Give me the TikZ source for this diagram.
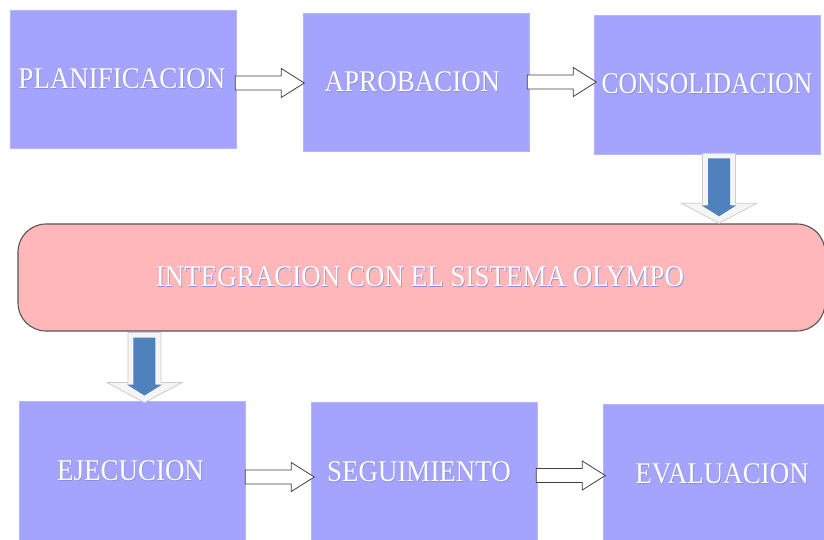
\documentclass[tikz,border=0pt]{standalone}
\usepackage{fontspec}
\setmainfont{Liberation Serif}
\usetikzlibrary{calc}
\definecolor{boxblue}{HTML}{A4A4FE}
\definecolor{boxedge}{HTML}{B4B4FF}
\definecolor{pinkfill}{HTML}{FFB7BA}
\definecolor{pinkedge}{HTML}{555555}
\definecolor{arrowblue}{HTML}{4F81BD}
\definecolor{txtshadow}{HTML}{8C8CD8}
\newcommand{\lbl}[1]{\scalebox{0.9}[1]{\makebox[0pt][l]{\kern0.8pt\raisebox{-0.8pt}{\textcolor{txtshadow}{#1}}}#1}}
\tikzset{
  stagebox/.style={rectangle, fill=boxblue, draw=boxedge, line width=0.6pt,
    minimum width=226pt, minimum height=138pt, inner sep=0pt,
    text=white, font=\fontsize{30}{32}\selectfont},
  integbox/.style={rectangle, rounded corners=28pt, fill=pinkfill, draw=pinkedge,
    line width=1.1pt, minimum width=807pt, minimum height=107pt, inner sep=0pt,
    text=white, font=\fontsize{30}{32}\selectfont},
  rblock/.style={fill=white, draw=black!75, line width=0.8pt, line join=miter},
  rightblock/.pic={
    \draw[rblock] (0,-7) -- (46,-7) -- (46,-14.5) -- (69,0) -- (46,14.5) -- (46,7) -- (0,7) -- cycle;
  },
  downblock/.pic={
    \draw[fill=gray!8, draw=gray!40, line width=0.8pt]
      (-16.5,0) -- (16.5,0) -- (16.5,50) -- (37.5,50) -- (0,70) -- (-37.5,50) -- (-16.5,50) -- cycle;
    \fill[arrowblue] (-11,5) -- (11,5) -- (11,52) -- (17.5,52) -- (0,63) -- (-17.5,52) -- (-11,52) -- cycle;
  }
}
\begin{document}
\begin{tikzpicture}[x=1pt,y=-1pt]
\useasboundingbox (0,0) rectangle (824,540);
\fill[white] (0,0) rectangle (824,540);

\node[stagebox] (plan) at (123,79) {\lbl{PLANIFICACION}\kern2pt};
\node[stagebox] (aprob) at (416,82) {\lbl{APROBACION}\kern7pt};
\node[stagebox, minimum height=139pt] (cons) at (707,84.5) {\scalebox{0.95}[1]{\lbl{CONSOLIDACION}}};

\node[integbox] (integ) at (421.5,277.5) {\lbl{INTEGRACION CON EL SISTEMA OLYMPO}\kern3pt};

\node[stagebox, minimum height=140pt] (ejec) at (132,471) {\lbl{EJECUCION}\kern3pt};
\node[stagebox, minimum height=140pt] (seg) at (424,472) {\lbl{SEGUIMIENTO}\kern10pt};
\node[stagebox, minimum height=140pt] (evl) at (716,474) {\kern12pt\lbl{EVALUACION}};

\pic at ($(plan.east)+(-1,4)$) {rightblock};
\pic at ($(aprob.east)+(-2,0)$) {rightblock};
\pic at ($(ejec.east)+(0,6)$) {rightblock};
\pic at ($(seg.east)+(-1,3.5)$) {rightblock};

\pic at ($(cons.south)+(12,-1)$) {downblock};
\pic at ($(integ.south west)+(127,1)$) {downblock};
\end{tikzpicture}
\end{document}
